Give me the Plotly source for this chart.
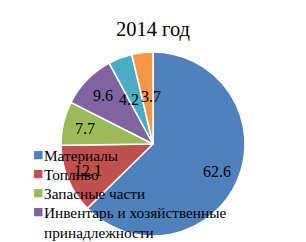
import math
import plotly.graph_objects as go

categories = ["Материалы", "Топливо", "Запасные части",
              "Инвентарь и хозяйственные<br>принадлежности",
              "Тара", "Прочие"]
values = [62.6, 12.1, 7.7, 9.6, 4.2, 3.7]
colors = ["#4F81BD", "#C0504D", "#9BBB59", "#8064A2", "#4BACC6", "#F79646"]
legend_count = 4
title_text = "2014 год"

W, H = 306, 242
FONT = "Liberation Serif"
CX, CY, R = 153, 144, 92  # pie centre and radius in pixels

fig = go.Figure()
fig.add_trace(go.Pie(
    labels=categories, values=values, sort=False, direction="clockwise",
    rotation=0, marker=dict(colors=colors, line=dict(color="white", width=1.5)),
    textinfo="none", showlegend=False, hoverinfo="label+value",
    domain=dict(x=[(CX - R) / W, (CX + R) / W], y=[1 - (CY + R) / H, 1 - (CY - R) / H]),
))

# value labels placed along each slice's bisector (small neighbouring slices nudged apart)
label_nudge_px = [0, 0, 0, 0, -7, 4]
total = sum(values)
cum = 0.0
for i, v in enumerate(values):
    mid = (cum + v / 2) / total * 2 * math.pi
    cum += v
    rf = 0.76 if v >= 5 else 0.52
    px = CX + rf * R * math.sin(mid) + label_nudge_px[i]
    py = CY - rf * R * math.cos(mid)
    fig.add_annotation(x=px / W, y=1 - py / H, xref="paper", yref="paper",
                       xanchor="center", yanchor="middle",
                       text=f"{v}", showarrow=False,
                       font=dict(family=FONT, size=16, color="black"))

# legend (first entries only, as in the reference)
y0, step = 154, 19
for i, (name, col) in enumerate(zip(categories[:legend_count], colors[:legend_count])):
    yy = y0 + i * step
    fig.add_annotation(x=31 / W, y=1 - yy / H, xref="paper", yref="paper",
                       xanchor="left", yanchor="middle", text="■", showarrow=False,
                       font=dict(family="DejaVu Sans", size=11, color=col))
    fig.add_annotation(x=42 / W, y=1 - (yy - 9.5) / H, xref="paper", yref="paper",
                       xanchor="left", yanchor="top", align="left", text=name,
                       showarrow=False,
                       font=dict(family=FONT, size=15.3, color="black"))

fig.update_layout(
    width=W, height=H, margin=dict(l=0, r=0, t=0, b=0),
    paper_bgcolor="white", plot_bgcolor="rgba(0,0,0,0)",
    title=dict(text=title_text, x=0.5, xanchor="center", y=1 - 29 / H, yanchor="middle",
               font=dict(family=FONT, size=20.5, color="black")),
    showlegend=False,
)
fig.write_html("out.html")
